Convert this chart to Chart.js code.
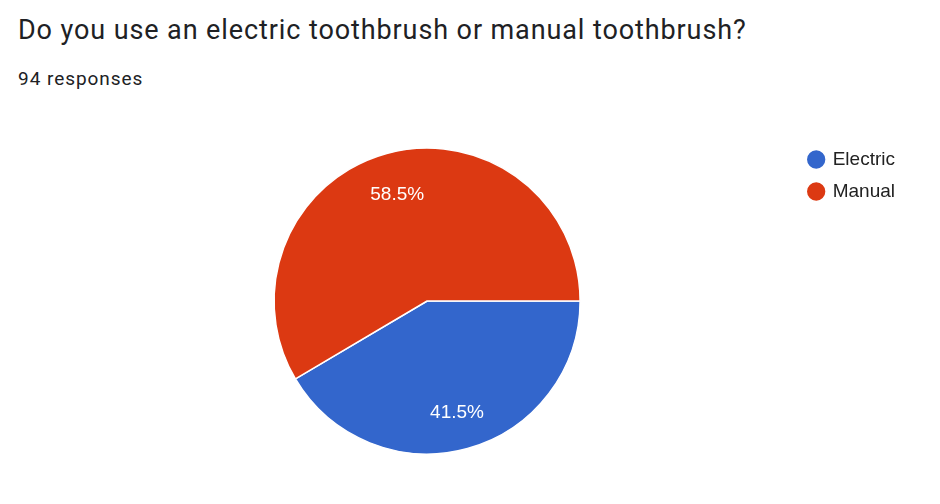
<!DOCTYPE html>
<html>
<head>
<meta charset="utf-8">
<script src="https://cdn.jsdelivr.net/npm/chart.js@4"></script>
<style>
  html, body { margin: 0; padding: 0; background: #fff; }
  #wrap { position: relative; width: 940px; height: 504px; }
  #title { position: absolute; left: 18px; top: 17px; font: 27px/27px Roboto, sans-serif; color: #202124; letter-spacing: 0.9px; white-space: nowrap; }
  #sub { position: absolute; left: 18px; top: 69px; font: 19px/19px Roboto, sans-serif; color: #202124; letter-spacing: 0.95px; }
  canvas { position: absolute; left: 0; top: 0; }
</style>
</head>
<body>
<div id="wrap">
  <div id="title">Do you use an electric toothbrush or manual toothbrush?</div>
  <div id="sub">94 responses</div>
  <canvas id="chart" width="940" height="504"></canvas>
</div>
<script>
// answers and counts (39 + 55 = 94)
const labels = ['Electric', 'Manual'];
const counts = [39, 55];
const colors = ['#3366CC', '#DC3912'];

// percent labels inside the slices
const sliceLabels = {
    id: 'sliceLabels',
    afterDatasetsDraw: function(chart) {
        const ctx = chart.ctx;
        const meta = chart.getDatasetMeta(0);
        const total = counts.reduce((a, b) => a + b, 0);
        ctx.save();
        ctx.fillStyle = '#ffffff';
        ctx.font = '19px "Liberation Sans", Arial, sans-serif';
        ctx.textAlign = 'center';
        ctx.textBaseline = 'middle';
        meta.data.forEach((arc, i) => {
            const p = arc.getProps(['x', 'y', 'startAngle', 'endAngle', 'outerRadius'], true);
            const mid = (p.startAngle + p.endAngle) / 2;
            const r = p.outerRadius * 0.74;
            const txt = (counts[i] / total * 100).toFixed(1) + '%';
            ctx.fillText(txt, p.x + Math.cos(mid) * r, p.y + Math.sin(mid) * r + 3);
        });
        ctx.restore();
    }
};

new Chart(document.getElementById('chart'), {
    type: 'pie',
    data: {
        labels: labels,
        datasets: [{
            data: counts,
            backgroundColor: colors,
            borderColor: '#ffffff',
            borderWidth: 1.5
        }]
    },
    options: {
        responsive: false,
        animation: false,
        rotation: 90,
        radius: 153,
        layout: { padding: { top: 137, bottom: 39, left: 58, right: 35 } },
        plugins: {
            tooltip: { enabled: false },
            legend: {
                position: 'right',
                align: 'start',
                labels: {
                    usePointStyle: true,
                    pointStyle: 'circle',
                    boxWidth: 14,
                    boxHeight: 14,
                    padding: 13,
                    color: '#222222',
                    font: { family: '"Liberation Sans", Arial, sans-serif', size: 19 }
                }
            }
        }
    },
    plugins: [sliceLabels]
});
</script>
</body>
</html>
